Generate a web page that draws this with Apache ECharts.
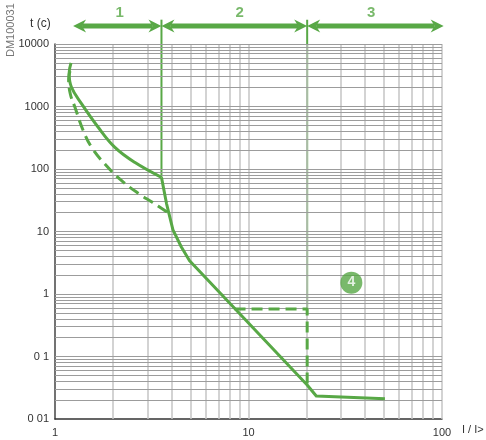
<!DOCTYPE html>
<html><head><meta charset="utf-8">
<script src="https://cdn.jsdelivr.net/npm/echarts@6/dist/echarts.min.js"></script>
<style>html,body{margin:0;padding:0;background:#fff}#c{width:486px;height:440px}</style>
</head><body><div id="c"></div>
<script>
// ---- data ----
const xTickLabels = ['1', '10', '100'];
const yTickLabels = ['0 01', '0 1', '1', '10', '100', '1000', '10000'];
const xGrid = [2,3,4,5,6,7,8,9,10,20,30,40,50,60,70,80,90,100];
const yGrid = [0.02,0.03,0.04,0.05,0.06,0.07,0.08,0.09,0.1,0.2,0.3,0.4,0.5,0.6,0.7,0.8,0.9,1,2,3,4,5,6,7,8,9,10,20,30,40,50,60,70,80,90,100,200,300,400,500,600,700,800,900,1000,2000,3000,4000,5000,6000,7000,8000,9000,10000];
// solid curve, upper smooth part (to knee)
const solidUpper = [[1.21,5000],[1.183,3400],[1.215,2050],[1.373,1100],[1.672,465],[2.04,222],[2.58,128],[3.55,73.5]];
// solid curve, lower part (knee to end)
const solidLower = [[3.55,73.5],[3.77,28],[4.07,10.6],[4.49,5.7],[4.96,3.4],[20.1,0.035],[22.4,0.0233],[50.7,0.021]];
// dashed curve
const dashedCurve = [[1.195,3700],[1.176,2750],[1.2,1585],[1.268,970],[1.40,410],[1.546,222],[1.81,120],[2.21,65],[2.72,40],[3.2,29],[3.88,19.5]];
// dashed step (short-time delay)
const dashedStep = [[8.47,0.575],[20.1,0.575],[20.1,0.035]];
// region boundaries (I/I>)
const regionBounds = [1.24, 3.55, 20.1, 102];
const regionNames = ['1', '2', '3'];
const regionLabelX = [2.16, 8.99, 43.0];
const kneeY = 73.5;
const stepY = 0.575;
const marker4 = [34, 1.52];

const GREEN = '#58a846';
const TOP_LINE = 24500;  // top of boundary lines (above plot)
const ARROW_Y = 19400;
const LABEL_Y = 31300;

const chart = echarts.init(document.getElementById('c'), null, {renderer: 'canvas'});
function lg(v){ return Math.round(Math.log10(v)); }

const gridSeries = (lines, dim, style) => ({
  type: 'line', data: [[1, 0.01]], symbol: 'none', silent: true, z: 1,
  lineStyle: {opacity: 0},
  markLine: {silent: true, symbol: 'none', label: {show: false}, animation: false,
    lineStyle: style, data: lines.map(v => ({[dim]: v}))}
});

// double-headed arrows drawn through the axis scales
const arrowSeries = {
  type: 'custom', clip: false, z: 5, silent: true,
  data: [0, 1, 2].map(i => [regionBounds[i], regionBounds[i + 1], ARROW_Y]),
  renderItem: (params, api) => {
    const a = api.coord([api.value(0), api.value(2)]);
    const b = api.coord([api.value(1), api.value(2)]);
    const y = a[1], L = 13, H = 6.5, N = 9;
    return {
      type: 'group',
      children: [
        {type: 'line', shape: {x1: a[0] + N, y1: y, x2: b[0] - N, y2: y},
          style: {stroke: GREEN, lineWidth: 5}},
        {type: 'polygon', shape: {points: [[a[0], y], [a[0] + L, y - H], [a[0] + N, y], [a[0] + L, y + H]]},
          style: {fill: GREEN}},
        {type: 'polygon', shape: {points: [[b[0], y], [b[0] - L, y - H], [b[0] - N, y], [b[0] - L, y + H]]},
          style: {fill: GREEN}}
      ]
    };
  }
};

const boundarySeries = [[regionBounds[1], kneeY], [regionBounds[2], stepY]].map(p => ({
  type: 'line', clip: false, z: 3, silent: true, symbol: 'none',
  lineStyle: {color: GREEN, width: 2},
  data: [[p[0], TOP_LINE], p]
}));

const option = {
  animation: false,
  backgroundColor: '#fff',
  grid: {left: 55, right: 44, top: 44, bottom: 21, containLabel: false, outerBoundsMode: 'none'},
  xAxis: {
    type: 'log', logBase: 10, min: 1, max: 100,
    axisLine: {show: true, lineStyle: {color: '#333', width: 1.5}},
    axisTick: {show: false},
    splitLine: {show: false},
    axisLabel: {
      color: '#333', fontSize: 11, fontFamily: 'Liberation Sans', margin: 8,
      formatter: v => xTickLabels[lg(v)]
    }
  },
  yAxis: {
    type: 'log', logBase: 10, min: 0.01, max: 10000,
    axisLine: {show: true, onZero: false, lineStyle: {color: '#444', width: 1.5}},
    axisTick: {show: false},
    splitLine: {show: false},
    axisLabel: {
      color: '#333', fontSize: 11, fontFamily: 'Liberation Sans', margin: 6,
      formatter: v => yTickLabels[lg(v) + 2]
    }
  },
  graphic: [
    {type: 'text', left: 30, top: 18, style: {text: 't (c)', fill: '#333', font: '12px "Liberation Sans"'}},
    {type: 'text', x: 5, y: 57, rotation: Math.PI / 2, style: {text: 'DM100031', fill: '#777', font: '11px "Liberation Sans"'}},
    {type: 'text', left: 462, top: 424, style: {text: 'I / I>', fill: '#333', font: '11px "Liberation Sans"'}}
  ],
  series: [
    gridSeries(xGrid, 'xAxis', {color: '#c4c4c4', width: 1.5, type: 'solid'}),
    gridSeries(yGrid, 'yAxis', {color: '#9c9c9c', width: 1, type: 'solid'}),
    ...boundarySeries,
    arrowSeries,
    { // region labels
      type: 'scatter', clip: false, symbolSize: 0, z: 5, silent: true,
      data: regionNames.map((n, i) => ({value: [regionLabelX[i], LABEL_Y], name: n})),
      label: {show: true, position: 'inside', formatter: p => p.name,
        color: GREEN, fontSize: 15, fontWeight: 'bold', fontFamily: 'Liberation Sans'}
    },
    { // solid curve upper
      type: 'line', data: solidUpper, smooth: 0.4, symbol: 'none', z: 6,
      lineStyle: {color: GREEN, width: 3}
    },
    { // solid curve lower
      type: 'line', data: solidLower, smooth: false, symbol: 'none', z: 6,
      lineStyle: {color: GREEN, width: 3, join: 'round'}
    },
    { // dashed curve
      type: 'line', data: dashedCurve, smooth: 0.4, symbol: 'none', z: 6,
      lineStyle: {color: GREEN, width: 3, type: [11, 6]}
    },
    { // dashed step
      type: 'line', data: dashedStep, symbol: 'none', z: 6,
      lineStyle: {color: GREEN, width: 3, type: [11, 6]}
    },
    { // marker 4
      type: 'scatter', data: [marker4], symbol: 'circle', symbolSize: 22, z: 7,
      itemStyle: {color: GREEN},
      label: {show: true, position: 'inside', formatter: '4', color: '#fff',
        fontSize: 14, fontWeight: 'bold', fontFamily: 'Liberation Sans'}
    }
  ]
};
chart.setOption(option);
</script>
</body></html>
